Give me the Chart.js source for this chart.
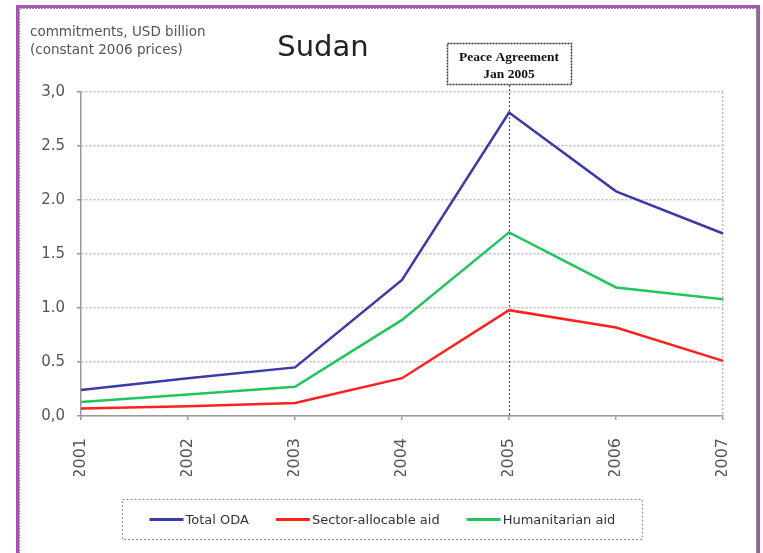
<!DOCTYPE html>
<html>
<head>
<meta charset="utf-8">
<script src="https://cdn.jsdelivr.net/npm/chart.js@4/dist/chart.umd.min.js"></script>
<style>
  html, body { margin: 0; padding: 0; background: #fff; }
  #wrap { width: 763px; height: 553px; position: relative; }
</style>
</head>
<body>
<div id="wrap"><canvas id="sudanChart"></canvas></div>
<script>
// Sudan — ODA commitments, USD billion (constant 2006 prices)

const years          = ["2001", "2002", "2003", "2004", "2005", "2006", "2007"];
const totalOda       = [0.24, 0.35, 0.45, 1.26, 2.81, 2.08, 1.69];
const sectorAid      = [0.07, 0.09, 0.12, 0.35, 0.98, 0.82, 0.51];
const humanitarian   = [0.13, 0.20, 0.27, 0.89, 1.70, 1.19, 1.08];
const yTickLabels    = ["0,0", "0.5", "1.0", "1.5", "2.0", "2.5", "3,0"];
const seriesNames    = ["Total ODA", "Sector-allocable aid", "Humanitarian aid"];
const seriesColors   = ["#3a3aa8", "#ff2020", "#22c45e"];
const peaceYear      = "2005";
const peaceNote      = ["Peace Agreement", "Jan 2005"];

const sansFont = "'DejaVu Sans', 'Liberation Sans', sans-serif";

// ── Frame, titles, annotation and legend ─────────────────
const decorPlugin = {
  id: "decor",
  beforeDraw(chart) {
    const ctx = chart.ctx;
    ctx.save();
    ctx.fillStyle = "#fff";
    ctx.fillRect(0, 0, chart.width, chart.height);

    // purple outer frame
    ctx.strokeStyle = "#a653b3";
    ctx.lineWidth = 3;
    ctx.strokeRect(17.5, 6.5, 741, 560);

    // grey inner frame
    ctx.strokeStyle = "#8a8a8a";
    ctx.lineWidth = 1;
    ctx.setLineDash([2, 1]);
    ctx.beginPath();
    ctx.moveTo(19.5, 560); ctx.lineTo(19.5, 8.5); ctx.lineTo(756.5, 8.5);
    ctx.stroke();
    ctx.setLineDash([]);
    ctx.beginPath();
    ctx.moveTo(756.5, 8.5); ctx.lineTo(756.5, 560);
    ctx.stroke();
    ctx.restore();
  },
  beforeDatasetsDraw(chart) {
    const ctx = chart.ctx;
    const x = Math.round(chart.scales.x.getPixelForValue(years.indexOf(peaceYear))) + 0.5;
    ctx.save();
    ctx.strokeStyle = "#555";
    ctx.lineWidth = 1.2;
    ctx.setLineDash([2, 2]);
    ctx.beginPath();
    ctx.moveTo(x, 85);
    ctx.lineTo(x, chart.chartArea.bottom);
    ctx.stroke();
    ctx.restore();
  },
  afterDraw(chart) {
    const ctx = chart.ctx;
    const xMid = chart.scales.x.getPixelForValue(years.indexOf(peaceYear));
    ctx.save();

    // axis caption
    ctx.fillStyle = "#555";
    ctx.font = "13.5px " + sansFont;
    ctx.textAlign = "left";
    ctx.textBaseline = "alphabetic";
    ctx.fillText("commitments, USD billion", 30, 36);
    ctx.fillText("(constant 2006 prices)", 30, 54);

    // title
    ctx.fillStyle = "#222";
    ctx.font = "29px " + sansFont;
    ctx.textAlign = "center";
    ctx.fillText("Sudan", 323, 56);

    // peace agreement box
    const bw = 124, bh = 41;
    const bx = Math.round(xMid - bw / 2) + 0.5, by = 43.5;
    ctx.fillStyle = "#fff";
    ctx.fillRect(bx, by, bw, bh);
    ctx.strokeStyle = "#333";
    ctx.lineWidth = 1.5;
    ctx.setLineDash([2, 1]);
    ctx.strokeRect(bx, by, bw, bh);
    ctx.setLineDash([]);
    ctx.fillStyle = "#111";
    ctx.font = "bold 13.5px 'Liberation Serif', 'DejaVu Serif', serif";
    ctx.textAlign = "center";
    ctx.textBaseline = "middle";
    ctx.fillText(peaceNote[0], xMid, 58);
    ctx.fillText(peaceNote[1], xMid, 75);

    // legend
    const pad = 27, lineW = 34, gap = 2;
    ctx.font = "13px " + sansFont;
    const items = chart.data.datasets.map(ds => ({
      label: ds.label, color: ds.borderColor, w: ctx.measureText(ds.label).width
    }));
    let total = pad;
    items.forEach(it => { total += lineW + gap + it.w + pad; });
    const lx = Math.round(chart.width / 2 - total / 2) + 0.5;
    const ly = 499.5, lh = 40;
    ctx.strokeStyle = "#888";
    ctx.lineWidth = 1;
    ctx.setLineDash([2, 2]);
    ctx.strokeRect(lx, ly, total, lh);
    ctx.setLineDash([]);
    let cx = lx + pad;
    const cy = ly + lh / 2;
    items.forEach(it => {
      ctx.strokeStyle = it.color;
      ctx.lineWidth = 3;
      ctx.beginPath();
      ctx.moveTo(cx, cy); ctx.lineTo(cx + lineW, cy);
      ctx.stroke();
      ctx.fillStyle = "#333";
      ctx.textAlign = "left";
      ctx.textBaseline = "middle";
      ctx.fillText(it.label, cx + lineW + gap, cy + 1);
      cx += lineW + gap + it.w + pad;
    });
    ctx.restore();
  }
};

const seriesData = [totalOda, sectorAid, humanitarian];

new Chart(document.getElementById("sudanChart").getContext("2d"), {
  type: "line",
  data: {
    labels: years,
    datasets: seriesData.map((vals, i) => ({
      label:           seriesNames[i],
      data:            vals,
      borderColor:     seriesColors[i],
      backgroundColor: seriesColors[i],
      borderWidth:     2.5,
      pointRadius:     0,
      tension:         0,
      fill:            false
    }))
  },
  options: {
    responsive:          true,
    maintainAspectRatio: false,
    animation:           false,
    layout: { padding: { left: 0, top: 92, right: 40, bottom: 77 } },
    plugins: {
      legend:  { display: false },
      tooltip: { enabled: false }
    },
    scales: {
      x: {
        afterFit(scale) { scale.height = 60; },
        border: { color: "#999", dash: [2, 2], width: 1.5 },
        grid: {
          color: ctx => ctx.index === years.length - 1 ? "#bdbdbd" : "rgba(0,0,0,0)",
          lineWidth: 1.5,
          tickColor: "#999",
          tickLength: 4
        },
        ticks: {
          minRotation: 90,
          maxRotation: 90,
          padding: 18,
          color: "#555",
          font: { family: sansFont, size: 16 }
        }
      },
      y: {
        min: 0,
        max: 3,
        afterFit(scale) { scale.width = 81; },
        border: { color: "#999", dash: [2, 2], width: 1.5 },
        grid: {
          color: "#bcbcbc",
          lineWidth: 1.5,
          tickColor: "#999",
          tickLength: 4
        },
        ticks: {
          stepSize: 0.5,
          padding: 12,
          color: "#555",
          font: { family: sansFont, size: 15 },
          callback: (v, i) => yTickLabels[i]
        }
      }
    }
  },
  plugins: [decorPlugin]
});
</script>
</body>
</html>
